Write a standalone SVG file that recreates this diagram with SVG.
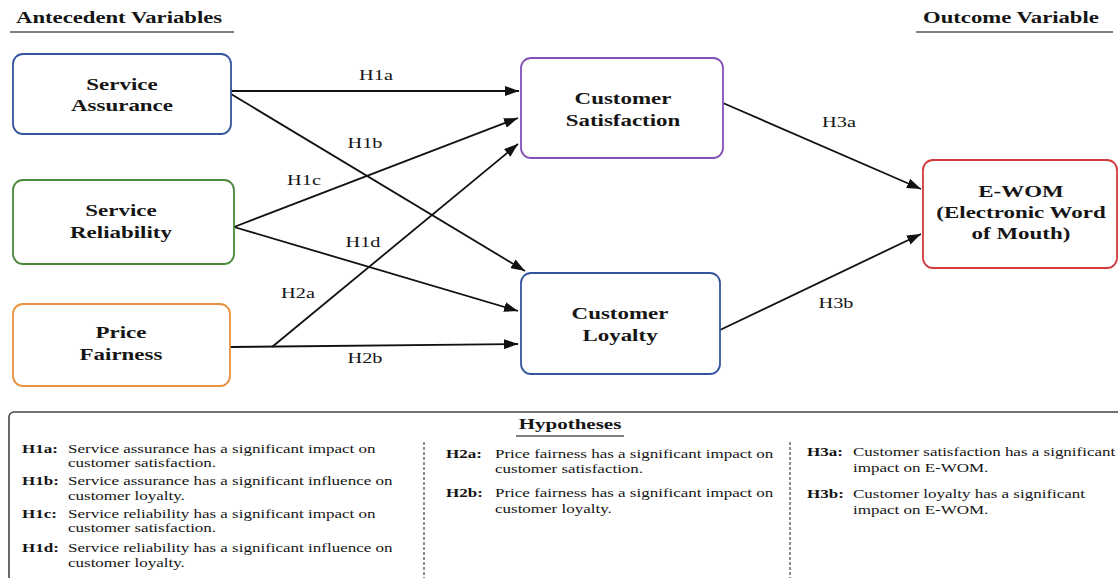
<svg xmlns="http://www.w3.org/2000/svg" width="1118" height="578" viewBox="0 0 1118 578">
<defs>
<style>
text{font-family:"Liberation Serif","Times New Roman",serif;fill:#151515}
.lbl{font-weight:bold;font-size:17px;text-anchor:middle}
.hdr{font-weight:bold;font-size:16px}
.el{font-size:14px;text-anchor:middle}
.hk{font-weight:bold;font-size:12.5px}
.ht{font-size:12.5px}
.box{fill:#fff;stroke-width:1.8}
.edge{stroke:#111;stroke-width:1.8;fill:none;marker-end:url(#arr)}
.rule{stroke:#555;stroke-width:1.5}
.dash{stroke:#444;stroke-width:1.2;stroke-dasharray:3 2}
</style>
<marker id="arr" viewBox="0 0 14 10" refX="14" refY="5" markerWidth="14" markerHeight="10" markerUnits="userSpaceOnUse" orient="auto">
<path d="M0,0 L14,5 L0,10 z" fill="#111"/>
</marker>
</defs>
<rect width="1118" height="578" fill="#fff"/>

<g id="headers">
<text class="hdr" transform="translate(16 23) scale(1.42 1)">Antecedent Variables</text>
<line class="rule" x1="10" y1="32" x2="234" y2="32"/>
<text class="hdr" transform="translate(923 23) scale(1.42 1)">Outcome Variable</text>
<line class="rule" x1="916" y1="32" x2="1113" y2="32"/>
</g>

<g id="connectors">
<line class="edge" x1="231" y1="91" x2="519" y2="91"/>
<line class="edge" x1="231" y1="94" x2="525" y2="271"/>
<line class="edge" x1="234" y1="227" x2="518" y2="118"/>
<line class="edge" x1="234" y1="227" x2="518" y2="311"/>
<line class="edge" x1="272" y1="347" x2="518" y2="144"/>
<line class="edge" x1="230" y1="347" x2="518" y2="344"/>
<line class="edge" x1="723" y1="103" x2="921" y2="189"/>
<line class="edge" x1="720" y1="330" x2="921" y2="234"/>
<text class="el" transform="translate(376 80) scale(1.45 1)">H1a</text>
<text class="el" transform="translate(365 148) scale(1.45 1)">H1b</text>
<text class="el" transform="translate(304 185) scale(1.45 1)">H1c</text>
<text class="el" transform="translate(363 247) scale(1.45 1)">H1d</text>
<text class="el" transform="translate(298 298) scale(1.45 1)">H2a</text>
<text class="el" transform="translate(365 363) scale(1.45 1)">H2b</text>
<text class="el" transform="translate(839 127) scale(1.45 1)">H3a</text>
<text class="el" transform="translate(836 308) scale(1.45 1)">H3b</text>
</g>

<g id="service-assurance">
<rect class="box" x="13" y="54" width="218" height="80" rx="10" stroke="#34559e"/>
<text class="lbl" transform="translate(122 90) scale(1.35 1)">Service</text>
<text class="lbl" transform="translate(122 111) scale(1.35 1)">Assurance</text>
</g>

<g id="service-reliability">
<rect class="box" x="13" y="180" width="221" height="84" rx="10" stroke="#4a8a3a"/>
<text class="lbl" transform="translate(121 216) scale(1.35 1)">Service</text>
<text class="lbl" transform="translate(121 238) scale(1.35 1)">Reliability</text>
</g>

<g id="price-fairness">
<rect class="box" x="13" y="304" width="217" height="82" rx="10" stroke="#e8913c"/>
<text class="lbl" transform="translate(121 338) scale(1.35 1)">Price</text>
<text class="lbl" transform="translate(121 360) scale(1.35 1)">Fairness</text>
</g>

<g id="customer-satisfaction">
<rect class="box" x="521" y="58" width="202" height="100" rx="10" stroke="#8052b8"/>
<text class="lbl" transform="translate(623 104) scale(1.35 1)">Customer</text>
<text class="lbl" transform="translate(623 126) scale(1.35 1)">Satisfaction</text>
</g>

<g id="customer-loyalty">
<rect class="box" x="521" y="273" width="199" height="101" rx="10" stroke="#34559e"/>
<text class="lbl" transform="translate(620 319) scale(1.35 1)">Customer</text>
<text class="lbl" transform="translate(620 341) scale(1.35 1)">Loyalty</text>
</g>

<g id="ewom">
<rect class="box" x="923" y="160" width="194" height="108" rx="10" stroke="#d63a3c"/>
<text class="lbl" transform="translate(1021 197) scale(1.35 1)">E-WOM</text>
<text class="lbl" transform="translate(1021 218) scale(1.35 1)">(Electronic Word</text>
<text class="lbl" transform="translate(1021 239) scale(1.35 1)">of Mouth)</text>
</g>

<g id="hypotheses">
<rect x="9" y="412" width="1200" height="300" rx="5" fill="none" stroke="#444" stroke-width="1.6"/>
<text class="hdr" text-anchor="middle" style="font-size:15px" transform="translate(570 429) scale(1.4 1)">Hypotheses</text>
<line class="rule" x1="516" y1="436" x2="624" y2="436"/>
<line class="dash" x1="424" y1="442" x2="424" y2="578"/>
<line class="dash" x1="790" y1="442" x2="790" y2="578"/>

<text class="hk" transform="translate(22 453) scale(1.36 1)">H1a:</text>
<text class="ht" transform="translate(68 453) scale(1.36 1)">Service assurance has a significant impact on</text>
<text class="ht" transform="translate(68 467) scale(1.36 1)">customer satisfaction.</text>
<text class="hk" transform="translate(22 485) scale(1.36 1)">H1b:</text>
<text class="ht" transform="translate(68 485) scale(1.36 1)">Service assurance has a significant influence on</text>
<text class="ht" transform="translate(68 500) scale(1.36 1)">customer loyalty.</text>
<text class="hk" transform="translate(22 518) scale(1.36 1)">H1c:</text>
<text class="ht" transform="translate(68 518) scale(1.36 1)">Service reliability has a significant impact on</text>
<text class="ht" transform="translate(68 532) scale(1.36 1)">customer satisfaction.</text>
<text class="hk" transform="translate(22 552) scale(1.36 1)">H1d:</text>
<text class="ht" transform="translate(68 552) scale(1.36 1)">Service reliability has a significant influence on</text>
<text class="ht" transform="translate(68 567) scale(1.36 1)">customer loyalty.</text>

<text class="hk" transform="translate(446 458) scale(1.36 1)">H2a:</text>
<text class="ht" transform="translate(495 458) scale(1.36 1)">Price fairness has a significant impact on</text>
<text class="ht" transform="translate(495 473) scale(1.36 1)">customer satisfaction.</text>
<text class="hk" transform="translate(446 497) scale(1.36 1)">H2b:</text>
<text class="ht" transform="translate(495 497) scale(1.36 1)">Price fairness has a significant impact on</text>
<text class="ht" transform="translate(495 513) scale(1.36 1)">customer loyalty.</text>

<text class="hk" transform="translate(807 456) scale(1.36 1)">H3a:</text>
<text class="ht" transform="translate(853 456) scale(1.36 1)">Customer satisfaction has a significant</text>
<text class="ht" transform="translate(853 472) scale(1.36 1)">impact on E-WOM.</text>
<text class="hk" transform="translate(807 498) scale(1.36 1)">H3b:</text>
<text class="ht" transform="translate(853 498) scale(1.36 1)">Customer loyalty has a significant</text>
<text class="ht" transform="translate(853 514) scale(1.36 1)">impact on E-WOM.</text>
</g>
</svg>
